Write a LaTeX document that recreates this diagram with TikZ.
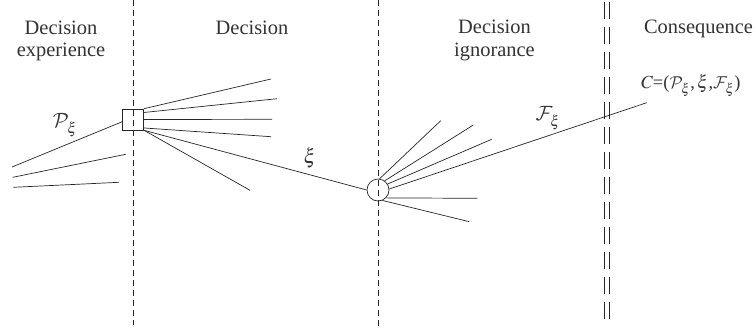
\documentclass[tikz,border=0pt]{standalone}
\usepackage{mathptmx}
\DeclareMathAlphabet{\mathcal}{OMS}{cmsy}{m}{n}
\usepackage{fontspec}
\setmainfont{Liberation Serif}
\newcommand{\lowsub}[1]{_{\raisebox{-2.5bp}{$\scriptstyle #1$}}}
\begin{document}
\begin{tikzpicture}[x=1bp,y=-1bp,
  ln/.style={line width=0.7bp, black!85},
  sep/.style={line width=0.7bp, black!85, dash pattern=on 6bp off 4bp},
  dsep/.style={line width=0.7bp, black!85, dash pattern=on 17.7bp off 7.3bp},
  ttl/.style={font=\fontsize{20.5}{22.7}\selectfont, text=black!80, align=center, anchor=base, inner sep=0pt},
  lbl/.style={font=\fontsize{20.5}{22.7}\selectfont, text=black!80, inner sep=0pt},
  sqnode/.style={draw, line width=0.7bp, black!85, rectangle, minimum size=21bp, inner sep=0pt},
  chnode/.style={draw, line width=0.7bp, black!85, circle, minimum size=22bp, inner sep=0pt}]
\useasboundingbox (0,0) rectangle (756,331);
% separators
\coordinate (s1t) at (133.3,0);  \coordinate (s1b) at (133.3,325);
\coordinate (s2t) at (378,0);    \coordinate (s2b) at (378,328);
\coordinate (d1t) at (604,1.7);  \coordinate (d1b) at (604,319.3);
\coordinate (d2t) at (609,1.7);  \coordinate (d2b) at (609,319.3);
\draw[sep] (s1t) -- (s1b);
\draw[sep] (s2t) -- (s2b);
\draw[dsep] (d1t) -- (d1b);
\draw[dsep] (d2t) -- (d2b);
% titles
\node[ttl] (t1) at (61,56.7) {Decision\\experience};
\node[ttl] (t2) at (252,34) {Decision};
\node[ttl] (t3) at (494.5,56) {Decision\\ignorance};
\node[ttl] (t4) at (698.5,33.3) {Consequence};
% nodes
\node[sqnode] (sq) at (133.3,119.5) {};
\node[chnode] (ch) at (378,190) {};
% free ends
\coordinate (a1) at (12,167);
\coordinate (a2s) at (125.7,154.3); \coordinate (a2e) at (12.7,177.3);
\coordinate (a3s) at (119,182.3);   \coordinate (a3e) at (13.3,187.3);
\coordinate (r1) at (271,79);
\coordinate (r2) at (277,98.7);
\coordinate (r3) at (272,119.3);
\coordinate (r4) at (271,136.7);
\coordinate (r5) at (250,190.3);
\coordinate (c1) at (440.7,120.7);
\coordinate (c2) at (473.3,125);
\coordinate (c3) at (491.7,139.3);
\coordinate (cf) at (646.7,102.7);
\coordinate (c5) at (477.3,198.3);
\coordinate (c6) at (469.3,221.7);
% past lines
\draw[ln] (sq.191) -- (a1);
\draw[ln] (a2s) -- (a2e);
\draw[ln] (a3s) -- (a3e);
% decision lines
\draw[ln] (sq.north east) -- (r1);
\draw[ln] (sq.33) -- (r2);
\draw[ln] (sq.east) -- (r3);
\draw[ln] (sq.-38) -- (r4);
\draw[ln] (sq.south east) -- (r5);
\draw[ln] (sq.south east) -- (ch.west);
% future lines
\draw[ln] (ch.82) -- (c1);
\draw[ln] (ch.54) -- (c2);
\draw[ln] (ch.32) -- (c3);
\draw[ln] (ch.5) -- (cf);
\draw[ln] (ch.-44) -- (c5);
\draw[ln] (ch.-67) -- (c6);
% labels
\node[lbl] (lp) at (65,125) {$\mathcal{P}\lowsub{\xi}$};
\node[lbl] (lx) at (310,158) {$\xi$};
\node[lbl] (lf) at (548,118) {$\mathcal{F}\lowsub{\xi}$};
\node[lbl, anchor=base west, font=\fontsize{18.5}{20}\selectfont] (lc) at (641,88.3) {$C$=($\mathcal{P}\lowsub{\xi}$,$\,\xi$,$\mathcal{F}\lowsub{\xi}$)};
\end{tikzpicture}
\end{document}
